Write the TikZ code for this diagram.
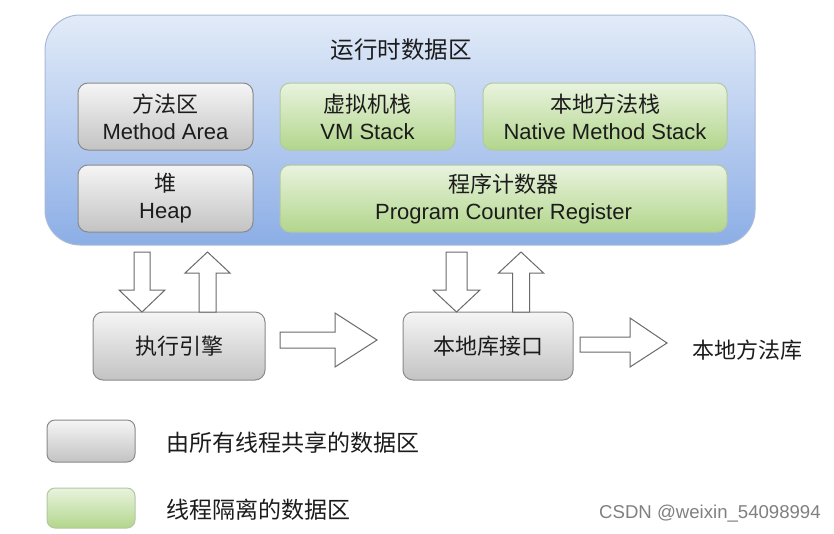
\documentclass[tikz,border=0pt]{standalone}
\usepackage{fontspec}
\setmainfont{Liberation Sans}
\newfontfamily\cjk{Noto Sans CJK SC}
\definecolor{outertop}{HTML}{E2EBF8}
\definecolor{outerbot}{HTML}{8CAEE6}
\definecolor{outerline}{HTML}{A9BAD8}
\definecolor{graytop}{HTML}{F5F5F5}
\definecolor{graybot}{HTML}{C3C3C3}
\definecolor{grayline}{HTML}{8A8A8A}
\definecolor{greentop}{HTML}{E9F3DE}
\definecolor{greenbot}{HTML}{B2D68C}
\definecolor{greenline}{HTML}{B3C89E}
\definecolor{txt}{HTML}{1C1C1C}
\definecolor{arrowline}{HTML}{6A6A6A}
\begin{document}
\begin{tikzpicture}[x=1pt,y=-1pt,
  every node/.style={text=txt, inner sep=0pt, align=center},
  graybox/.style={draw=grayline, line width=1pt, rounded corners=10pt,
    top color=graytop, bottom color=graybot},
  greenbox/.style={draw=greenline, line width=1pt, rounded corners=10pt,
    top color=greentop, bottom color=greenbot},
  areabox/.style={draw=outerline, line width=1pt, rounded corners=35pt,
    top color=outertop, bottom color=outerbot},
  blockarrow/.style={draw=arrowline, fill=white, line width=1pt, line join=miter},
  lbl/.style={font=\fontsize{22}{27}\selectfont},
]
\useasboundingbox (0,0) rectangle (834,533);
\fill[white] (0,0) rectangle (834,533);

% runtime data area
\node[areabox, minimum width=710pt, minimum height=230pt] (area) at (400,130) {};
\node[font=\fontsize{23.5}{28}\selectfont] (title) at (401,50) {\cjk 运行时数据区};

\node[graybox, lbl, minimum width=175pt, minimum height=67pt] (method) at (165.5,116.5)
  {{\cjk 方法区}\\Method Area};
\node[greenbox, lbl, minimum width=175pt, minimum height=67pt] (vmstack) at (367.5,116.5)
  {{\cjk 虚拟机栈}\\VM Stack};
\node[greenbox, lbl, minimum width=244pt, minimum height=67pt] (native) at (605,116.5)
  {{\cjk 本地方法栈}\\Native Method Stack};
\node[graybox, lbl, minimum width=175pt, minimum height=67pt] (heap) at (165.5,198.5)
  {{\cjk 堆}\\Heap};
\node[greenbox, lbl, minimum width=447pt, minimum height=67pt] (pc) at (503.5,198.5)
  {{\cjk 程序计数器}\\Program Counter Register};

% lower boxes
\node[graybox, lbl, minimum width=172pt, minimum height=68pt] (exec) at (179,346) {\cjk 执行引擎};
\node[graybox, lbl, minimum width=170pt, minimum height=68pt] (jni) at (488,346) {\cjk 本地库接口};
\node[lbl, anchor=west] (nlib) at (692,350) {\cjk 本地方法库};

% block arrows
\draw[blockarrow] (134,252) -- (150,252) -- (150,290) -- (165,290) -- (142,312) -- (119,290) -- (134,290) -- cycle;
\draw[blockarrow] (199,312) -- (199,273) -- (185,273) -- (207.5,252) -- (230,273) -- (216,273) -- (216,312) -- cycle;
\draw[blockarrow] (446,252) -- (467,252) -- (467,290) -- (480,290) -- (456.5,312) -- (433,290) -- (446,290) -- cycle;
\draw[blockarrow] (512.5,312) -- (512.5,273) -- (498.5,273) -- (521,252) -- (543.5,273) -- (529.5,273) -- (529.5,312) -- cycle;
\draw[blockarrow] (280,332) -- (335,332) -- (335,313) -- (377,340) -- (335,367) -- (335,348) -- (280,348) -- cycle;
\draw[blockarrow] (580,337) -- (630,337) -- (630,318) -- (667,343) -- (630,367) -- (630,352) -- (580,352) -- cycle;

% legend
\node[graybox, rounded corners=8pt, minimum width=88pt, minimum height=42pt] (leg1) at (91,441) {};
\node[greenbox, rounded corners=8pt, minimum width=88pt, minimum height=40pt] (leg2) at (91,508) {};
\node[anchor=west, font=\fontsize{23}{27}\selectfont] (leg1t) at (166,443) {\cjk 由所有线程共享的数据区};
\node[anchor=west, font=\fontsize{23}{27}\selectfont] (leg2t) at (166,510) {\cjk 线程隔离的数据区};

% watermark
\node[anchor=west, text=black!50, font=\fontsize{18.6}{20}\selectfont] (wm) at (599,514) {CSDN @weixin\_54098994};
\end{tikzpicture}
\end{document}
